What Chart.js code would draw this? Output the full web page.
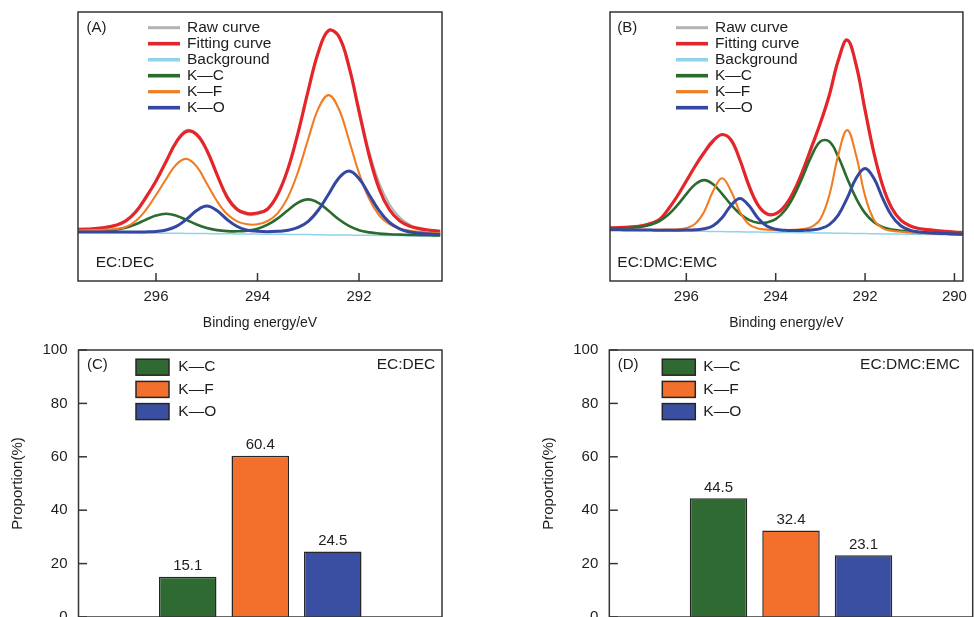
<!DOCTYPE html>
<html><head><meta charset="utf-8">
<script src="https://cdn.jsdelivr.net/npm/chart.js@4.4.1/dist/chart.umd.min.js"></script>
<style>
html,body{margin:0;padding:0;background:#fff;overflow:hidden;width:974px;height:617px;}
canvas{position:absolute;display:block;}
</style></head><body>
<canvas id="cA" width="487" height="340" style="left:0;top:0;width:487px;height:340px"></canvas>
<canvas id="cB" width="444" height="340" style="left:530px;top:0;width:444px;height:340px"></canvas>
<canvas id="cC" width="487" height="310" style="left:0;top:330px;width:487px;height:310px"></canvas>
<canvas id="cD" width="444" height="310" style="left:530px;top:330px;width:444px;height:310px"></canvas>
<script>
// ---------- data ----------
const energyA = [297.6,297.4,297.2,297.0,296.8,296.6,296.4,296.2,296.0,295.8,295.6,295.4,295.2,295.0,294.8,294.6,294.4,294.2,294.0,293.8,293.6,293.4,293.2,293.0,292.8,292.6,292.4,292.2,292.0,291.8,291.6,291.4,291.2,291.0,290.8,290.6,290.4];
const rawA = [52.0,51.5,52.9,54.3,55.8,60.7,70.0,84.2,99.5,120.4,139.9,151.1,146.0,131.9,107.1,85.4,72.5,66.0,67.0,72.8,86.3,112.8,147.6,191.2,230.1,250.1,245.9,216.2,172.7,130.0,97.8,76.8,63.7,56.3,51.4,46.2,48.2];
const fitA = [51.5,51.8,52.5,53.5,55.6,59.8,69.0,83.5,100.0,119.6,138.9,149.6,146.5,130.7,106.7,83.9,71.5,67.5,68.0,72.0,86.8,112.2,148.4,190.7,229.1,250.6,244.7,214.7,169.7,125.5,91.8,71.3,60.2,54.8,52.4,50.7,49.7];
const bgA = [48.7,48.6,48.5,48.4,48.3,48.2,48.1,48.0,47.9,47.8,47.7,47.6,47.5,47.4,47.3,47.2,47.1,47.0,46.9,46.8,46.7,46.6,46.5,46.4,46.3,46.1,46.0,45.9,45.8,45.7,45.6,45.5,45.4,45.3,45.2,45.1,45.0];
const kcA = [49.4,49.4,49.6,50.1,51.2,53.3,56.8,61.3,65.4,67.2,65.3,61.1,56.5,53.0,50.9,49.9,49.7,50.4,52.3,56.3,62.6,70.8,78.4,81.6,78.1,70.2,61.7,55.1,50.8,48.6,47.4,46.8,46.4,46.1,45.9,45.7,45.5];
const kfA = [50.5,50.6,50.9,51.3,52.1,54.0,60.0,71.0,86.0,102.0,116.5,122.1,114.6,97.5,80.0,66.9,59.6,56.7,56.7,60.0,67.9,83.9,109.4,142.2,172.6,185.9,172.2,141.3,108.0,82.1,65.5,56.9,52.4,50.3,49.2,48.3,47.7];
const koA = [49.1,49.0,49.0,48.9,48.9,48.9,49.0,49.1,49.6,51.0,54.6,61.6,70.4,75.0,70.4,61.5,54.5,50.9,49.7,49.3,49.7,50.7,53.6,59.7,71.0,86.7,102.8,110.1,102.5,86.2,70.1,58.6,52.2,49.0,47.7,46.9,46.5];

const energyB = [297.8,297.6,297.4,297.2,297.0,296.8,296.6,296.4,296.2,296.0,295.8,295.6,295.4,295.2,295.0,294.8,294.6,294.4,294.2,294.0,293.8,293.6,293.4,293.2,293.0,292.8,292.6,292.4,292.2,292.0,291.8,291.6,291.4,291.2,291.0,290.8,290.6,290.4,290.2,290.0,289.8];
const rawB = [53.3,53.7,53.4,54.8,55.5,58.3,61.1,72.6,85.7,99.6,115.9,129.7,141.3,145.8,142.0,121.0,97.3,77.0,66.8,67.6,75.4,88.9,110.2,134.6,158.8,187.3,221.9,240.5,217.0,172.4,128.7,95.2,73.2,60.5,55.7,52.7,51.8,50.0,50.0,49.1,48.7];
const fitB = [53.0,53.2,53.6,54.2,55.2,57.5,61.5,72.0,85.0,100.0,115.0,128.5,140.0,146.5,141.0,121.0,95.3,76.2,67.3,67.2,74.8,89.3,109.7,133.6,158.0,185.8,220.4,241.0,216.0,170.9,127.7,94.6,72.7,60.8,55.3,52.5,51.3,50.3,49.6,48.9,48.4];
const bgB = [51.0,50.9,50.8,50.7,50.5,50.4,50.3,50.2,50.0,49.9,49.8,49.7,49.5,49.4,49.3,49.2,49.0,48.9,48.8,48.6,48.5,48.4,48.3,48.2,48.0,47.9,47.8,47.7,47.5,47.4,47.3,47.1,47.0,46.9,46.8,46.6,46.5,46.4,46.3,46.1,46.0];
const kcB = [52.4,52.6,52.8,53.3,54.2,56.2,60.0,66.5,75.8,86.9,96.8,100.9,96.8,87.2,76.3,67.2,61.1,58.3,58.5,61.8,70.2,84.4,103.8,124.9,139.6,139.4,124.2,102.6,82.7,67.9,58.8,53.9,51.5,50.2,49.4,48.8,48.4,48.0,47.7,47.3,47.1];
const kfB = [51.4,51.3,51.3,51.2,51.2,51.2,51.3,51.5,51.8,53.0,57.2,69.3,90.0,102.8,89.9,69.1,56.8,52.6,51.4,50.9,50.9,51.2,51.9,54.1,62.0,85.8,125.9,150.9,125.6,85.2,61.1,52.7,50.2,49.2,48.5,47.9,47.6,47.3,47.0,46.7,46.5];
const koB = [51.2,51.2,51.1,51.0,50.9,50.9,50.8,50.8,50.8,50.9,51.2,52.2,55.3,63.3,75.6,82.6,75.4,63.1,55.0,51.7,50.7,50.5,50.6,51.0,52.4,56.4,65.9,82.9,102.7,112.6,102.4,82.2,65.0,55.2,50.9,49.0,48.3,47.8,47.4,47.0,46.8];

const xTicksA = [296, 294, 292];
const xTicksB = [296, 294, 292, 290];
const curveNames = ['Raw curve', 'Fitting curve', 'Background', 'K\u2014C', 'K\u2014F', 'K\u2014O'];

const bondNames = ['K\u2014C', 'K\u2014F', 'K\u2014O'];
const propDEC = [15.1, 60.4, 24.5];
const propDMC = [44.5, 32.4, 23.1];
const yTicksBar = [0, 20, 40, 60, 80, 100];

// ---------- styles ----------
const FONT = '"Liberation Sans", Arial, Helvetica, sans-serif';
const TXT = '#1e1e1e';
const curveStyle = [
  {color:'#b3b3b3', width:2,   order:6, leg:3},
  {color:'#e4262b', width:3.2, order:5, leg:3.6},
  {color:'#8fd4ea', width:1.5, order:4, leg:3.6},
  {color:'#2b6b2d', width:2.6, order:3, leg:3.6},
  {color:'#f07d23', width:2.1, order:2, leg:3.2},
  {color:'#3447a1', width:3,   order:1, leg:3.6}
];
const barColors = ['#2f6a33', '#f2702b', '#3a4fa1'];

const decoPlugin = {
  id: 'deco',
  afterDatasetsDraw(chart, args, o) {
    const ctx = chart.ctx, a = chart.chartArea;
    ctx.save();
    ctx.strokeStyle = '#353535';
    ctx.lineWidth = 1.5;
    if (o.kind === 'spec') {
      const xs = chart.scales.x;
      xs.ticks.forEach(t => {
        const px = xs.getPixelForValue(t.value);
        ctx.beginPath(); ctx.moveTo(px, a.bottom); ctx.lineTo(px, a.bottom - 8); ctx.stroke();
      });
    } else {
      const ys = chart.scales.y;
      ys.ticks.forEach(t => {
        const py = ys.getPixelForValue(t.value);
        ctx.beginPath(); ctx.moveTo(a.left, py); ctx.lineTo(a.left + 8.5, py); ctx.stroke();
      });
    }
    ctx.strokeRect(a.left, a.top, a.right - a.left, a.bottom - a.top);

    ctx.fillStyle = TXT;
    ctx.textBaseline = 'middle';
    ctx.font = '15px ' + FONT;
    ctx.textAlign = 'left';
    ctx.fillText(o.panel, a.left + o.panelDx, a.top + o.panelDy);

    ctx.font = '15.5px ' + FONT;
    if (o.kind === 'spec') {
      ctx.textBaseline = 'alphabetic';
      ctx.fillText(o.sample, a.left + o.sampleDx, o.sampleY);
      ctx.textBaseline = 'middle';
      chart.data.datasets.forEach((ds, i) => {
        const y = o.legY + i * 16;
        ctx.strokeStyle = ds.borderColor;
        ctx.lineWidth = curveStyle[i].leg;
        ctx.beginPath(); ctx.moveTo(o.legX, y); ctx.lineTo(o.legX + 32, y); ctx.stroke();
        ctx.fillStyle = TXT;
        ctx.fillText(ds.label, o.legX + 39, y);
      });
    } else {
      ctx.textAlign = 'right';
      ctx.fillText(o.sample, a.right - o.sampleDx, a.top + o.panelDy);
      ctx.textAlign = 'left';
      chart.data.datasets.forEach((ds, i) => {
        const y = o.legY + i * 22.2;
        ctx.fillStyle = ds.backgroundColor;
        ctx.fillRect(o.legX, y - 8, 33, 16);
        ctx.strokeStyle = '#262626'; ctx.lineWidth = 1.5;
        ctx.strokeRect(o.legX, y - 8, 33, 16);
        ctx.fillStyle = TXT;
        ctx.fillText(ds.label, o.legX + o.legTx, y);
      });
      ctx.font = '15px ' + FONT;
      ctx.textAlign = 'center';
      ctx.textBaseline = 'alphabetic';
      chart.data.datasets.forEach((ds, i) => {
        const el = chart.getDatasetMeta(i).data[0];
        ctx.fillText(ds.data[0].toFixed(1), el.x, el.y - 6.5);
      });
    }
    ctx.restore();
  }
};

function spectrum(id, energies, series, xMin, xMax, xTicks, padL, padR, opts) {
  const datasets = series.map((vals, i) => ({
    label: curveNames[i],
    data: energies.map((e, k) => ({x: e, y: vals[k]})),
    borderColor: curveStyle[i].color,
    borderWidth: curveStyle[i].width,
    order: curveStyle[i].order,
    pointRadius: 0,
    tension: 0.4,
    fill: false,
    clip: 0
  }));
  new Chart(document.getElementById(id), {
    type: 'line',
    data: {datasets},
    options: {
      responsive: false, animation: false, devicePixelRatio: 1, events: [],
      layout: {padding: {left: padL, right: padR, top: 12, bottom: 0}},
      plugins: {legend: {display: false}, tooltip: {enabled: false}, deco: opts},
      scales: {
        x: {
          type: 'linear', reverse: true, min: xMin, max: xMax,
          grid: {display: false, drawTicks: false}, border: {display: false},
          afterBuildTicks: s => { s.ticks = xTicks.map(v => ({value: v})); },
          afterFit: s => { s.height = 59; },
          ticks: {color: TXT, font: {family: FONT, size: 15}, padding: 7, maxRotation: 0, autoSkip: false, callback: v => String(v)},
          title: {display: true, text: 'Binding energy/eV', color: TXT, font: {family: FONT, size: 14}, padding: {top: 0, bottom: 8.6}}
        },
        y: {display: false, min: 0, max: 269}
      }
    },
    plugins: [decoPlugin]
  });
}

function bars(id, values, padL, padR, opts) {
  new Chart(document.getElementById(id), {
    type: 'bar',
    data: {
      labels: [''],
      datasets: bondNames.map((n, i) => ({
        label: n, data: [values[i]],
        backgroundColor: barColors[i], borderColor: '#262626', borderWidth: 1.5,
        categoryPercentage: 0.5985, barPercentage: 0.793
      }))
    },
    options: {
      responsive: false, animation: false, devicePixelRatio: 1, events: [],
      layout: {padding: {left: padL, right: padR, top: 18, bottom: 23}},
      plugins: {legend: {display: false}, tooltip: {enabled: false}, deco: opts},
      scales: {
        x: {display: false, offset: true},
        y: {
          min: 0, max: 100,
          grid: {display: false, drawTicks: false}, border: {display: false},
          afterBuildTicks: s => { s.ticks = yTicksBar.map(v => ({value: v})); },
          afterFit: s => { s.width = 78.5; },
          ticks: {color: TXT, font: {family: FONT, size: 15}, padding: 11, callback: v => String(v)},
          title: {display: true, text: 'Proportion(%)', color: TXT, font: {family: FONT, size: 15}, padding: {top: 9, bottom: 0}}
        }
      }
    },
    plugins: [decoPlugin]
  });
}

spectrum('cA', energyA, [rawA, fitA, bgA, kcA, kfA, koA], 290.365, 297.537, xTicksA, 78, 45,
  {kind: 'spec', panel: '(A)', panelDx: 8.4, panelDy: 15.5, sample: 'EC:DEC', sampleDx: 17.7, sampleY: 267.3, legX: 148, legY: 27.7});
spectrum('cB', energyB, [rawB, fitB, bgB, kcB, kfB, koB], 289.81, 297.708, xTicksB, 80, 2,
  {kind: 'spec', panel: '(B)', panelDx: 7.3, panelDy: 15.5, sample: 'EC:DMC:EMC', sampleDx: 7.3, sampleY: 267.3, legX: 146, legY: 27.7});
bars('cC', propDEC, 0, 45,
  {kind: 'bar', panel: '(C)', panelDx: 8.4, panelDy: 14.7, sample: 'EC:DEC', sampleDx: 6.7, legX: 136, legY: 37.2, legTx: 42.3});
bars('cD', propDMC, 0.8, 1.3,
  {kind: 'bar', panel: '(D)', panelDx: 8.4, panelDy: 14.7, sample: 'EC:DMC:EMC', sampleDx: 12.7, legX: 132.3, legY: 37.2, legTx: 41});
</script>
</body></html>
